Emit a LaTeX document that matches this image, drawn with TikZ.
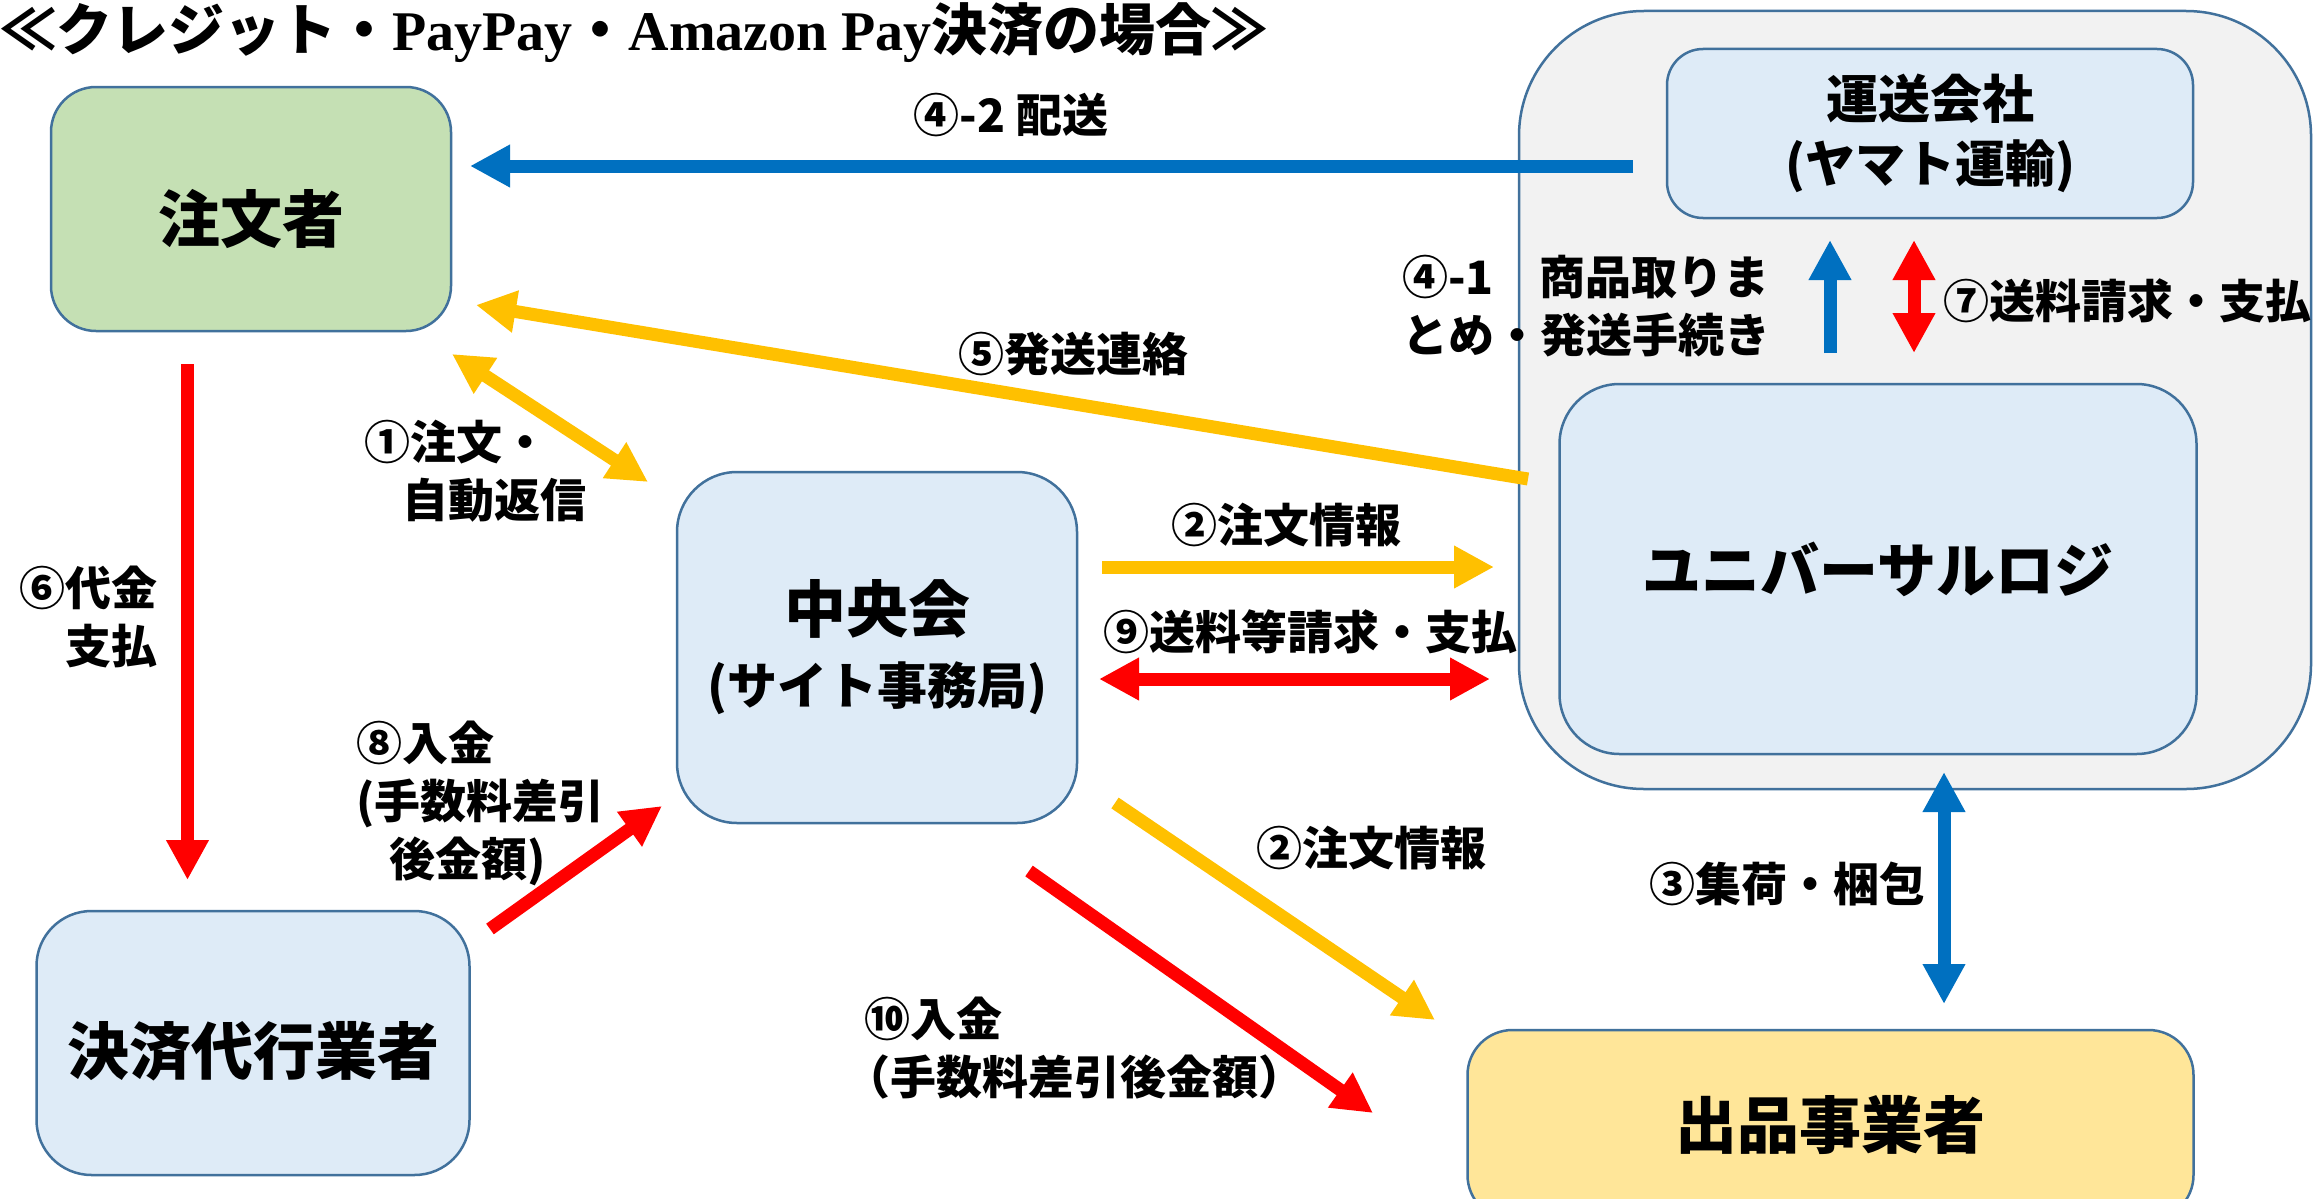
\documentclass[tikz,border=0pt]{standalone}
\usepackage{fontspec}
\setmainfont{Noto Sans CJK JP}
\newfontfamily\lserif{Liberation Serif}
\usetikzlibrary{arrows.meta}
\definecolor{bordc}{HTML}{41719C}
\definecolor{grnf}{HTML}{C5E0B4}
\definecolor{bluef}{HTML}{DEEBF7}
\definecolor{yelf}{HTML}{FFE699}
\definecolor{grayf}{HTML}{F2F2F2}
\definecolor{ablue}{HTML}{0070C0}
\definecolor{ayel}{HTML}{FFC000}
\definecolor{ared}{HTML}{FF0000}
\newcommand\lowertext[2]{\raisebox{-#1}[\height][\depth]{#2}}
\tikzset{
  nbox/.style={draw=bordc, line width=2.5pt, align=center, inner sep=0pt, text=black},
  bigfont/.style={font=\bfseries\fontsize{62}{66}\selectfont},
  arr/.style={line width=13pt, -{Triangle[length=40pt,width=40pt]}},
  darr/.style={line width=13pt, {Triangle[length=40pt,width=40pt]}-{Triangle[length=40pt,width=40pt]}},
  lbl/.style={font=\bfseries\fontsize{46}{58}\selectfont, inner sep=0pt, text=black},
}
\begin{document}
\begin{tikzpicture}[x=1pt,y=-1pt]
\useasboundingbox (0,0) rectangle (2313,1199);
\clip (0,0) rectangle (2313,1199);
\fill[white] (0,0) rectangle (2313,1199);

% title
\node[anchor=base west, inner sep=0pt, font=\bfseries\fontsize{56}{56}\selectfont] (title) at (0,51)
  {≪クレジット・{\lserif PayPay}・{\lserif Amazon Pay}決済の場合≫};

% container
\node[nbox, fill=grayf, rounded corners=125pt, minimum width=792pt, minimum height=778pt] (grp) at (1915,400) {};

% boxes
\node[nbox, bigfont, fill=grnf, rounded corners=45pt, minimum width=400pt, minimum height=244pt] (orderer) at (251,209) {\lowertext{10pt}{注文者}};
\node[nbox, fill=bluef, rounded corners=36pt, minimum width=526pt, minimum height=169pt, font=\bfseries\fontsize{52}{64}\selectfont] (yamato) at (1930,133.5) {運送会社\\{\fontsize{50}{64}\selectfont(ヤマト運輸)}};
\node[nbox, fill=bluef, rounded corners=60pt, minimum width=637pt, minimum height=370pt, font=\bfseries\fontsize{59}{59}\selectfont] (ulogi) at (1878,569) {ユニバーサルロジ};
\node[nbox, fill=bluef, rounded corners=60pt, minimum width=400pt, minimum height=351pt, font=\bfseries\fontsize{62}{72}\selectfont] (center) at (877,647.5) {中央会\\{\fontsize{50}{72}\selectfont(サイト事務局)}};
\node[nbox, bigfont, fill=bluef, rounded corners=55pt, minimum width=433pt, minimum height=264pt] (agent) at (253,1043) {\lowertext{8pt}{決済代行業者}};
\node[nbox, bigfont, fill=yelf, rounded corners=45pt, minimum width=726pt, minimum height=190pt] (seller) at (1830.5,1125) {出品事業者};

% connector end points
\coordinate (a42s) at (1633,166);  \coordinate (a42e) at (470,166);
\coordinate (a5s)  at (1528,479);  \coordinate (a5e)  at (476,305);
\coordinate (a1a)  at (452,354);   \coordinate (a1b)  at (648,482);
\coordinate (a6s)  at (187.5,364); \coordinate (a6e)  at (187.5,880);
\coordinate (a8s)  at (490,929);   \coordinate (a8e)  at (662,806);
\coordinate (a2s)  at (1102,567);  \coordinate (a2e)  at (1494,567);
\coordinate (a9a)  at (1099,679);  \coordinate (a9b)  at (1490,679);
\coordinate (a2ds) at (1115,803);  \coordinate (a2de) at (1435,1020);
\coordinate (a10s) at (1029,871);  \coordinate (a10e) at (1373,1113);
\coordinate (a41s) at (1830,353);  \coordinate (a41e) at (1830,240);
\coordinate (a7a)  at (1914,240);  \coordinate (a7b)  at (1914,353);
\coordinate (a3a)  at (1944,772);  \coordinate (a3b)  at (1944,1004);

% connectors
\draw[arr, draw=ablue] (a42s) -- (a42e);
\draw[arr, draw=ayel] (a5s) -- (a5e);
\draw[darr, draw=ayel] (a1a) -- (a1b);
\draw[arr, draw=ared] (a6s) -- (a6e);
\draw[arr, draw=ared] (a8s) -- (a8e);
\draw[arr, draw=ayel] (a2s) -- (a2e);
\draw[darr, draw=ared] (a9a) -- (a9b);
\draw[arr, draw=ayel] (a2ds) -- (a2de);
\draw[arr, draw=ared] (a10s) -- (a10e);
\draw[arr, draw=ablue] (a41s) -- (a41e);
\draw[darr, draw=ared] (a7a) -- (a7b);
\draw[darr, draw=ablue] (a3a) -- (a3b);

% labels
\node[lbl] (l42) at (1011,115) {④-2 配送};
\node[lbl] (l5) at (1073,354) {⑤発送連絡};
\node[lbl, align=left, anchor=west] (l1) at (364,471.5) {①注文・\\\hspace*{38pt}自動返信};
\node[lbl, align=right, anchor=east] (l6) at (158,617) {⑥代金\\支払};
\node[lbl, align=left, anchor=west] (l8) at (356,803.5) {⑧入金\\(手数料差引\\\hspace*{33pt}後金額)};
\node[lbl] (l2) at (1286,525) {②注文情報};
\node[lbl] (l9) at (1310,632) {⑨送料等請求・支払};
\node[lbl, anchor=west] (l2d) at (1256,848) {②注文情報};
\node[lbl, align=left, anchor=west] (l10) at (864,1048) {⑩入金\\\hspace*{-20pt}（手数料差引後金額）};
\node[lbl, align=left, anchor=west] (l41) at (1402,306.5) {④-1　商品取りま\\とめ・発送手続き};
\node[lbl, anchor=west] (l7) at (1943,301) {⑦送料請求・支払};
\node[lbl] (l3) at (1787,884) {③集荷・梱包};
\end{tikzpicture}
\end{document}
